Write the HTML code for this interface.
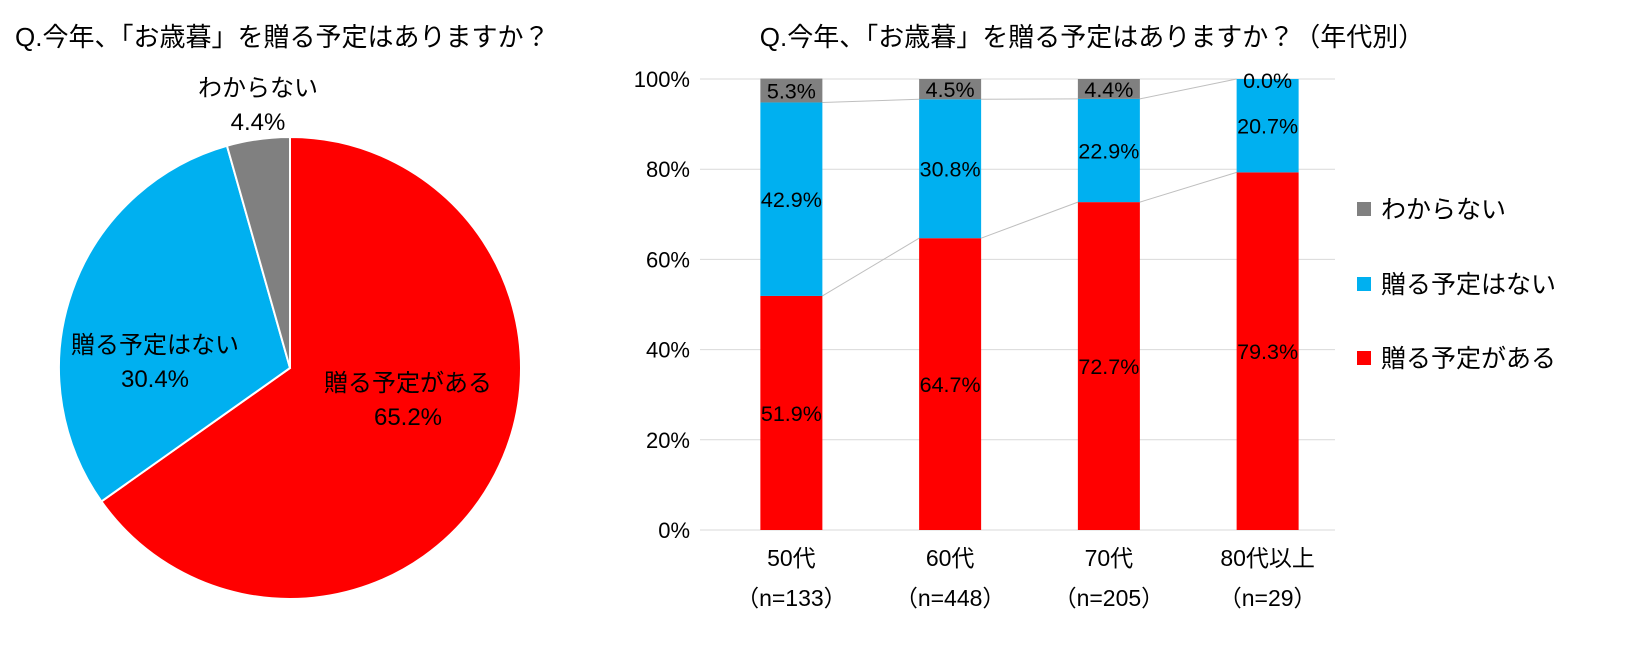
<!DOCTYPE html>
<html><head><meta charset="utf-8">
<style>
body{margin:0;background:#fff;width:1638px;height:658px;overflow:hidden;font-family:"Liberation Sans","Noto Sans CJK JP",sans-serif;}
svg text{font-family:"Liberation Sans","Noto Sans CJK JP",sans-serif;fill:#000;}
</style></head><body>
<svg width="1638" height="658">
<text x="15" y="46" font-size="26">Q.今年、「お歳暮」を贈る予定はありますか？</text>
<g id="pie"></g>
<text x="1092" y="46" font-size="26" text-anchor="middle">Q.今年、「お歳暮」を贈る予定はありますか？（年代別）</text>
<g id="bars"></g>
</svg>
<script>
const NS="http://www.w3.org/2000/svg";
function mk(p,t,a){const e=document.createElementNS(NS,t);for(const k in a)e.setAttribute(k,a[k]);p.appendChild(e);return e;}
// Pie data
const pieLabels=["贈る予定がある","贈る予定はない","わからない"];
const pieValues=[65.2,30.4,4.4];
const pieColors=["#ff0000","#00b0f0","#808080"];
const pie=document.getElementById('pie');
const cx=290,cy=368,R=231;
let acc=0;const tot=pieValues.reduce((a,b)=>a+b,0);
const labelPos=[[408,391],[155,353],[258,96]];
pieValues.forEach((v,i)=>{
  const a0=acc/tot*2*Math.PI;acc+=v;const a1=acc/tot*2*Math.PI;
  const x0=cx+R*Math.sin(a0),y0=cy-R*Math.cos(a0),x1=cx+R*Math.sin(a1),y1=cy-R*Math.cos(a1);
  const p=mk(pie,'path',{d:`M${cx},${cy}L${x0},${y0}A${R},${R} 0 ${a1-a0>Math.PI?1:0} 1 ${x1},${y1}Z`,fill:pieColors[i],stroke:'#fff','stroke-width':2});
  
  
  const t=mk(pie,'text',{x:labelPos[i][0],y:labelPos[i][1],'font-size':24,'text-anchor':'middle'});
  
  
  mk(t,'tspan',{x:labelPos[i][0],dy:0}).textContent=pieLabels[i];
  mk(t,'tspan',{x:labelPos[i][0],dy:34}).textContent=v.toFixed(1)+'%';
});
// Bar data
const categories=["50代","60代","70代","80代以上"];
const catN=["（n=133）","（n=448）","（n=205）","（n=29）"];
const seriesNames=["贈る予定がある","贈る予定はない","わからない"];
const yes=[51.9,64.7,72.7,79.3];
const no=[42.9,30.8,22.9,20.7];
const unk=[5.3,4.5,4.4,0.0];
const yTicks=[0,20,40,60,80,100];
const colors=["#ff0000","#00b0f0","#808080"];
const g=document.getElementById('bars');
const y0p=530,y100=79,xL=700,xR=1335,bw=62;
const Y=v=>y0p-(y0p-y100)*v/100;
const X=i=>xL+(xR-xL)/categories.length*(i+0.5)+12;
yTicks.forEach(t=>{
  const l=mk(g,'line',{x1:xL,x2:xR,y1:Y(t),y2:Y(t),stroke:'#d9d9d9','stroke-width':1});
  
  
  const tx=mk(g,'text',{x:690,y:Y(t)+8,'font-size':22,'text-anchor':'end'});
  
  
  tx.textContent=t+'%';
});
const series=[yes,no,unk];
for(let s=0;s<2;s++){
  for(let i=0;i<categories.length-1;i++){
    let c0=0,c1=0;for(let k=0;k<=s;k++){c0+=series[k][i];c1+=series[k][i+1];}
    const l=mk(g,'line',{x1:X(i)+bw/2,y1:Y(c0),x2:X(i+1)-bw/2,y2:Y(c1),stroke:'#bfbfbf','stroke-width':1});
    
    
  }
}
categories.forEach((c,i)=>{
  let base=0;
  series.forEach((arr,s)=>{
    const v=arr[i];
    const r=mk(g,'rect',{x:X(i)-bw/2,y:Y(base+v),width:bw,height:Y(base)-Y(base+v),fill:colors[s]});
    
    
    let ly=Y(base+v/2)+8;
    if(s===2&&v<3)ly=Y(100)+9;
    const t=mk(g,'text',{x:X(i),y:ly,'font-size':21.5,'text-anchor':'middle'});
    
    
    t.textContent=v.toFixed(1)+'%';
    base+=v;
  });
  const t1=mk(g,'text',{x:X(i),y:566,'font-size':23,'text-anchor':'middle'});
  
  
  t1.textContent=c;
  const t2=mk(g,'text',{x:X(i),y:606,'font-size':23,'text-anchor':'middle'});
  
  
  t2.textContent=catN[i];
});
const ley=[358,284,209];
[0,1,2].forEach(s=>{
  const r=mk(g,'rect',{x:1357,y:ley[s]-7,width:14,height:14,fill:colors[s]});
  
  
  const t=mk(g,'text',{x:1381,y:ley[s]+9,'font-size':25});
  
  
  t.textContent=seriesNames[s];
});
</script>
</body></html>
